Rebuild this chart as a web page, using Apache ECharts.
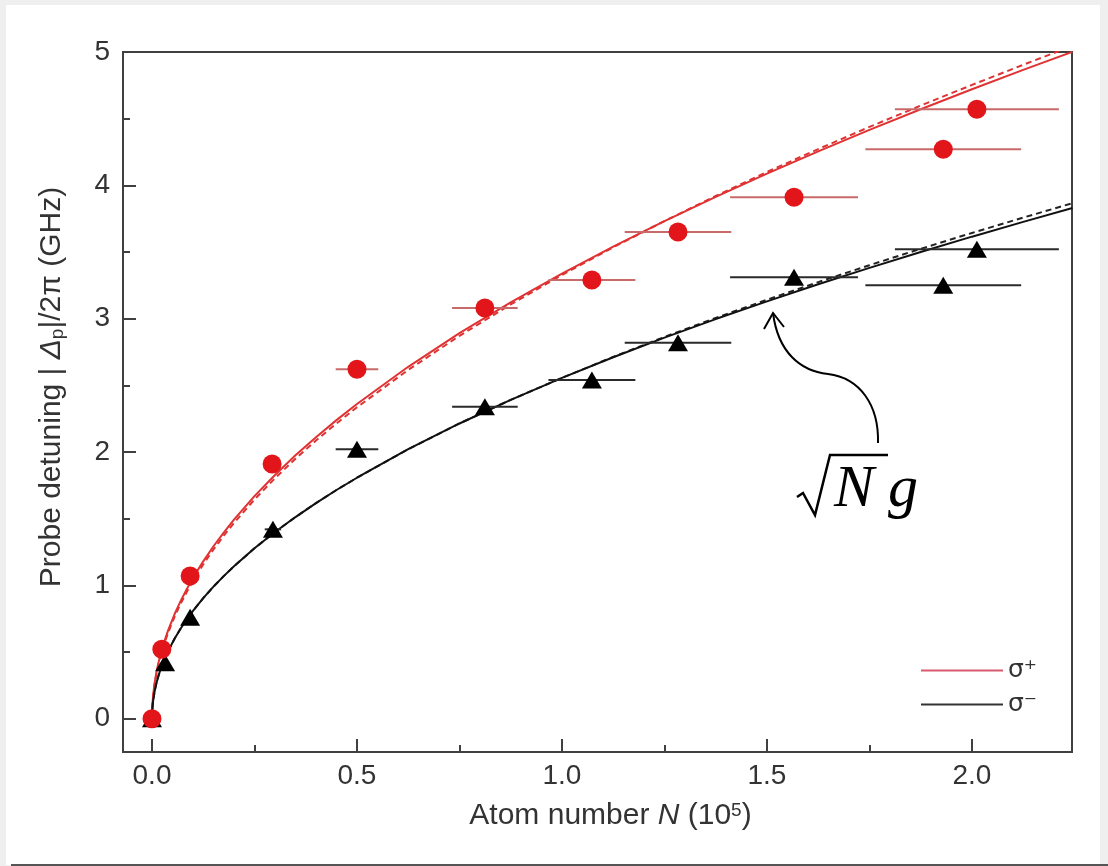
<!DOCTYPE html>
<html>
<head>
<meta charset="utf-8">
<script src="https://cdn.jsdelivr.net/npm/echarts@6/dist/echarts.min.js"></script>
<style>
html,body{margin:0;padding:0;background:#efefef;width:1108px;height:866px;overflow:hidden;}
#panel{position:absolute;left:6px;top:5px;width:1094px;height:860px;background:#fff;}
#bline{position:absolute;left:11px;top:864px;width:1097px;height:2px;background:#555;}
#c{position:absolute;left:0;top:0;width:1108px;height:866px;}
</style>
</head>
<body>
<div id="panel"></div>
<div id="bline"></div>
<div id="c"></div>
<script>
// ---- tick values ----
const xTicks = [0, 0.5, 1.0, 1.5, 2.0];
const xMinorTicks = [0.25, 0.75, 1.25, 1.75];
const yTicks = [0, 1, 2, 3, 4, 5];
const yMinorTicks = [0.5, 1.5, 2.5, 3.5, 4.5];

// ---- measured points: sigma+ (red circles) ----
const plusN    = [0, 0.024, 0.093, 0.293, 0.50, 0.812, 1.073, 1.283, 1.566, 1.930, 2.012];
const plusDet  = [0, 0.52, 1.07, 1.91, 2.62, 3.08, 3.29, 3.65, 3.91, 4.27, 4.57];
const plusNErr = [0, 0, 0, 0.02, 0.052, 0.08, 0.106, 0.13, 0.156, 0.19, 0.20];

// ---- measured points: sigma- (black triangles) ----
const minusN    = [0, 0.032, 0.093, 0.295, 0.50, 0.812, 1.073, 1.283, 1.566, 1.930, 2.012];
const minusDet  = [0, 0.42, 0.76, 1.42, 2.02, 2.34, 2.54, 2.82, 3.31, 3.25, 3.52];
const minusNErr = [0, 0, 0, 0.02, 0.052, 0.08, 0.106, 0.13, 0.156, 0.19, 0.20];

// ---- fit curves ----
const fitN = [0, 0.001, 0.003, 0.006, 0.01, 0.015, 0.02, 0.03, 0.04, 0.055, 0.07, 0.085, 0.1,
  0.125, 0.15, 0.175, 0.2, 0.25, 0.3, 0.35, 0.4, 0.45, 0.5, 0.625, 0.75, 0.875, 1.0,
  1.125, 1.25, 1.375, 1.5, 1.625, 1.75, 1.875, 2.0, 2.125, 2.245];
const plusFit = [0, 0.106, 0.183, 0.259, 0.334, 0.409, 0.472, 0.578, 0.668, 0.783, 0.883, 0.973, 1.056,
  1.180, 1.293, 1.396, 1.493, 1.669, 1.828, 1.975, 2.111, 2.239, 2.360, 2.639, 2.891, 3.122, 3.338,
  3.541, 3.732, 3.914, 4.088, 4.255, 4.416, 4.571, 4.721, 4.866, 5.001];
const plusFitDash = [0, 0.100, 0.175, 0.250, 0.323, 0.396, 0.458, 0.562, 0.650, 0.764, 0.863, 0.951, 1.033,
  1.157, 1.269, 1.372, 1.468, 1.644, 1.803, 1.950, 2.086, 2.214, 2.335, 2.616, 2.871, 3.107, 3.328,
  3.535, 3.732, 3.920, 4.100, 4.272, 4.438, 4.598, 4.753, 4.904, 5.046];
const minusFit = [0, 0.081, 0.140, 0.198, 0.256, 0.313, 0.362, 0.443, 0.511, 0.599, 0.676, 0.745, 0.808,
  0.904, 0.990, 1.069, 1.143, 1.278, 1.400, 1.512, 1.617, 1.715, 1.807, 2.021, 2.214, 2.391, 2.556,
  2.711, 2.858, 2.997, 3.130, 3.258, 3.381, 3.500, 3.615, 3.726, 3.830];
const minusFitDash = [0, 0.081, 0.140, 0.198, 0.256, 0.313, 0.362, 0.443, 0.511, 0.599, 0.676, 0.745, 0.808,
  0.904, 0.990, 1.069, 1.143, 1.278, 1.400, 1.512, 1.617, 1.715, 1.807, 2.021, 2.214, 2.391, 2.556,
  2.713, 2.863, 3.006, 3.142, 3.274, 3.401, 3.524, 3.643, 3.758, 3.866];

const RED = '#e2161a';
const RED_LINE = '#e03232';
const RED_BAR = '#c96a6a';
const BLACK = '#000000';
const AXIS = '#404040';
const FONT = 'Liberation Sans, Arial, sans-serif';
const TXT = '#333333';

const xMin = -0.0707, xMax = 2.244, yMin = -0.25, yMax = 5;

function pairs(xs, ys) { return xs.map((x, i) => [x, ys[i]]); }

function errSeries(name, xs, ys, errs, color) {
  return {
    type: 'custom', name: name, silent: true, z: 3,
    data: xs.map((x, i) => [x, ys[i], errs[i]]),
    encode: { x: 0, y: 1 },
    renderItem: function (params, api) {
      const x = api.value(0), y = api.value(1), e = api.value(2);
      if (!e) return { type: 'group', children: [] };
      const p1 = api.coord([x - e, y]), p2 = api.coord([x + e, y]);
      return { type: 'line', shape: { x1: p1[0], y1: p1[1], x2: p2[0], y2: p2[1] },
               style: { stroke: color, lineWidth: 2 } };
    }
  };
}

function fitSeries(name, ys, color, type, z) {
  return {
    type: 'line', name: name, data: pairs(fitN, ys), showSymbol: false, symbol: 'none',
    smooth: false, clip: true, z: z, silent: true,
    lineStyle: { color: color, width: 2, type: type }, itemStyle: { color: color }
  };
}

const chart = echarts.init(document.getElementById('c'), null, { renderer: 'canvas' });

const option = {
  animation: false,
  backgroundColor: 'transparent',
  textStyle: { fontFamily: FONT },
  grid: { left: 123, right: 36, top: 52, bottom: 114, show: true, borderColor: AXIS, borderWidth: 2, backgroundColor: '#ffffff' },
  legend: {
    left: 916, top: 653, orient: 'vertical', itemGap: 9, itemWidth: 82, itemHeight: 2,
    icon: 'rect', selectedMode: false,
    textStyle: { fontSize: 25, color: TXT, fontFamily: 'DejaVu Sans, sans-serif' },
    data: [
      { name: 'σ⁺', itemStyle: { color: '#d85a6e' } },
      { name: 'σ⁻', itemStyle: { color: '#333333' } }
    ]
  },
  xAxis: [
    {
      type: 'value', min: xMin, max: xMax, position: 'bottom',
      axisLine: { show: true, onZero: false, lineStyle: { color: AXIS, width: 2 } },
      axisTick: { show: true, inside: true, length: 13, customValues: xTicks, lineStyle: { color: AXIS, width: 2 } },
      axisLabel: { customValues: xTicks, formatter: v => v.toFixed(1), fontSize: 28, color: TXT, margin: 10, fontFamily: FONT },
      splitLine: { show: false },
      name: 'Atom number {i|N} (10{sup|5})',
      nameLocation: 'middle', nameGap: 49,
      nameTextStyle: {
        fontSize: 30, color: TXT, fontFamily: FONT, padding: [0, 0, 0, 26],
        rich: {
          i: { fontSize: 30, fontStyle: 'italic', color: TXT, fontFamily: FONT },
          sup: { fontSize: 19, verticalAlign: 'top', color: TXT, fontFamily: FONT }
        }
      }
    },
    {
      type: 'value', min: xMin, max: xMax, position: 'bottom',
      axisLine: { show: false, onZero: false },
      axisTick: { show: true, inside: true, length: 7, customValues: xMinorTicks, lineStyle: { color: AXIS, width: 2 } },
      axisLabel: { show: false }, splitLine: { show: false }
    }
  ],
  yAxis: [
    {
      type: 'value', min: yMin, max: yMax, position: 'left',
      axisLine: { show: true, onZero: false, lineStyle: { color: AXIS, width: 2 } },
      axisTick: { show: true, inside: true, length: 13, customValues: yTicks, lineStyle: { color: AXIS, width: 2 } },
      axisLabel: { customValues: yTicks, fontSize: 28, color: TXT, margin: 13, fontFamily: FONT },
      splitLine: { show: false },
      name: 'Probe detuning | {i|Δ}{sub|p}|/2π (GHz)',
      nameLocation: 'middle', nameRotate: 90, nameGap: 56,
      nameTextStyle: {
        fontSize: 30, color: TXT, fontFamily: FONT, padding: [0, 0, 0, 30],
        rich: {
          i: { fontSize: 30, fontStyle: 'italic', color: TXT, fontFamily: FONT },
          sub: { fontSize: 19, verticalAlign: 'bottom', color: TXT, fontFamily: FONT }
        }
      }
    },
    {
      type: 'value', min: yMin, max: yMax, position: 'left',
      axisLine: { show: false, onZero: false },
      axisTick: { show: true, inside: true, length: 7, customValues: yMinorTicks, lineStyle: { color: AXIS, width: 2 } },
      axisLabel: { show: false }, splitLine: { show: false }
    }
  ],
  series: [
    fitSeries('σ⁺ dashed', plusFitDash, RED_LINE, [6, 4], 2),
    fitSeries('σ⁻ dashed', minusFitDash, '#222', [6, 4], 2),
    fitSeries('σ⁺', plusFit, RED_LINE, 'solid', 2),
    fitSeries('σ⁻', minusFit, '#111', 'solid', 2),
    errSeries('σ⁺ err', plusN, plusDet, plusNErr, RED_BAR),
    errSeries('σ⁻ err', minusN, minusDet, minusNErr, '#2a2a2a'),
    {
      type: 'scatter', name: 'σ⁻ data', data: pairs(minusN, minusDet), symbol: 'triangle',
      symbolSize: [20, 17], itemStyle: { color: BLACK, opacity: 1 }, z: 4, silent: true
    },
    {
      type: 'scatter', name: 'σ⁺ data', data: pairs(plusN, plusDet), symbol: 'circle',
      symbolSize: 19, itemStyle: { color: RED, opacity: 1 }, z: 5, silent: true
    }
  ],
  graphic: [
    // curved arrow pointing at the sigma- fit curve
    { type: 'bezierCurve', z: 10, silent: true,
      shape: { x1: 878, y1: 443, cpx1: 879, cpy1: 405, cpx2: 860, cpy2: 378, x2: 828, y2: 374 },
      style: { fill: 'none', stroke: '#000', lineWidth: 2 } },
    { type: 'bezierCurve', z: 10, silent: true,
      shape: { x1: 828, y1: 374, cpx1: 800, cpy1: 371, cpx2: 778, cpy2: 352, x2: 773, y2: 313 },
      style: { fill: 'none', stroke: '#000', lineWidth: 2 } },
    { type: 'polyline', z: 10, silent: true,
      shape: { points: [[764, 329], [773, 313], [784, 327]] },
      style: { fill: 'none', stroke: '#000', lineWidth: 2 } },
    // radical sign
    { type: 'polyline', z: 10, silent: true,
      shape: { points: [[797, 497], [803, 493], [815, 515], [830, 455], [888, 455]] },
      style: { fill: 'none', stroke: '#000', lineWidth: 2.5 } },
    { type: 'text', z: 10, silent: true, left: 834, top: 460,
      style: { text: 'N', font: 'italic 60px "Liberation Serif", "DejaVu Serif", serif', fill: '#000' } },
    { type: 'text', z: 10, silent: true, left: 888, top: 460,
      style: { text: 'g', font: 'italic 60px "Liberation Serif", "DejaVu Serif", serif', fill: '#000' } }
  ]
};

chart.setOption(option);
</script>
</body>
</html>
